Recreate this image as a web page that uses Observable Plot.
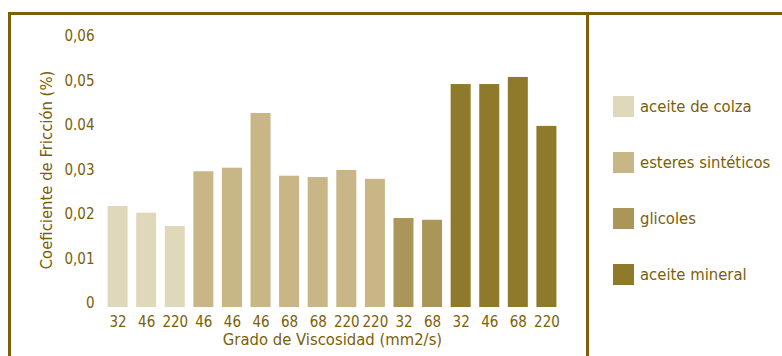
<!DOCTYPE html>
<html>
<head>
<meta charset="utf-8">
<script src="https://cdn.jsdelivr.net/npm/d3@7"></script>
<script src="https://cdn.jsdelivr.net/npm/@observablehq/plot@0.6"></script>
<style>
  html, body { margin: 0; padding: 0; background: #fff; }
  #wrap { position: relative; width: 782px; height: 356px; overflow: hidden; font-family: "DejaVu Sans Condensed", "DejaVu Sans", sans-serif; }
  .line { position: absolute; background: #7a6008; }
  #legend { position: absolute; left: 613px; top: 0; }
  .item { position: absolute; display: flex; align-items: center; white-space: nowrap; color: #7a6008; font-size: 16.5px; }
  .sw { width: 21px; height: 21px; margin-right: 6px; }
  svg text { fill: #7a6008; }
</style>
</head>
<body>
<div id="wrap"></div>
<script>
const grades = ["32","46","220","46","46","46","68","68","220","220","32","68","32","46","68","220"];
const types = ["aceite de colza","aceite de colza","aceite de colza",
  "esteres sintéticos","esteres sintéticos","esteres sintéticos","esteres sintéticos","esteres sintéticos","esteres sintéticos","esteres sintéticos",
  "glicoles","glicoles",
  "aceite mineral","aceite mineral","aceite mineral","aceite mineral"];
const values = [0.0227,0.0212,0.0182,0.0305,0.0313,0.0436,0.0295,0.0292,0.0308,0.0288,0.0200,0.0196,0.0501,0.0501,0.0517,0.0407];
const categories = ["aceite de colza","esteres sintéticos","glicoles","aceite mineral"];
const colors = ["#e0d8bb","#c8b687","#ab9659","#8f7a2b"];
const yTicks = [0,0.01,0.02,0.03,0.04,0.05,0.06];
const yTickLabels = ["0","0,01","0,02","0,03","0.04","0,05","0,06"];

const data = values.map((v, i) => ({i, grade: grades[i], type: types[i], value: v}));

const chart = Plot.plot({
  width: 782,
  height: 356,
  marginLeft: 99,
  marginRight: 217,
  marginTop: 40,
  marginBottom: 49,
  style: {fontFamily: '"DejaVu Sans Condensed", "DejaVu Sans", sans-serif', fontSize: "15px", color: "#7a6008", background: "transparent"},
  x: {domain: d3.range(values.length), paddingInner: 0.3, paddingOuter: 0.3, round: false, label: null},
  y: {domain: [0, 0.06], label: null},
  color: {domain: categories, range: colors},
  marks: [
    Plot.barY(data, {x: "i", y: "value", fill: "type"}),
    Plot.axisX({tickSize: 0, tickPadding: 9, tickFormat: i => grades[i], label: null, fontSize: 15}),
    Plot.axisY({ticks: yTicks, tickSize: 0, tickPadding: 5, tickFormat: v => yTickLabels[yTicks.indexOf(v)], dy: -4, label: null, fontSize: 15}),
    Plot.text(["Grado de Viscosidad (mm2/s)"], {frameAnchor: "bottom", textAnchor: "middle", dy: 37, fontSize: 16.5, fill: "#7a6008"}),
    Plot.text(["Coeficiente de Fricción (%)"], {frameAnchor: "left", textAnchor: "middle", dx: -53, dy: -4, rotate: -90, fontSize: 16.5, fill: "#7a6008"})
  ]
});

const wrap = document.getElementById("wrap");
wrap.appendChild(chart);

function line(l, t, w, h) {
  const d = document.createElement("div");
  d.className = "line";
  Object.assign(d.style, {left: l + "px", top: t + "px", width: w + "px", height: h + "px"});
  wrap.appendChild(d);
}
line(8, 12, 774, 3);
line(8, 12, 3, 344);
line(586, 12, 3, 344);

const legend = document.createElement("div");
legend.id = "legend";
const rowY = [106, 162, 218, 274];
categories.forEach((c, k) => {
  const it = document.createElement("div");
  it.className = "item";
  it.style.top = (rowY[k] - 11) + "px";
  it.style.height = "22px";
  const sw = document.createElement("div");
  sw.className = "sw";
  sw.style.background = colors[k];
  it.appendChild(sw);
  const t = document.createElement("span");
  t.textContent = c;
  it.appendChild(t);
  legend.appendChild(it);
});
wrap.appendChild(legend);
</script>
</body>
</html>
